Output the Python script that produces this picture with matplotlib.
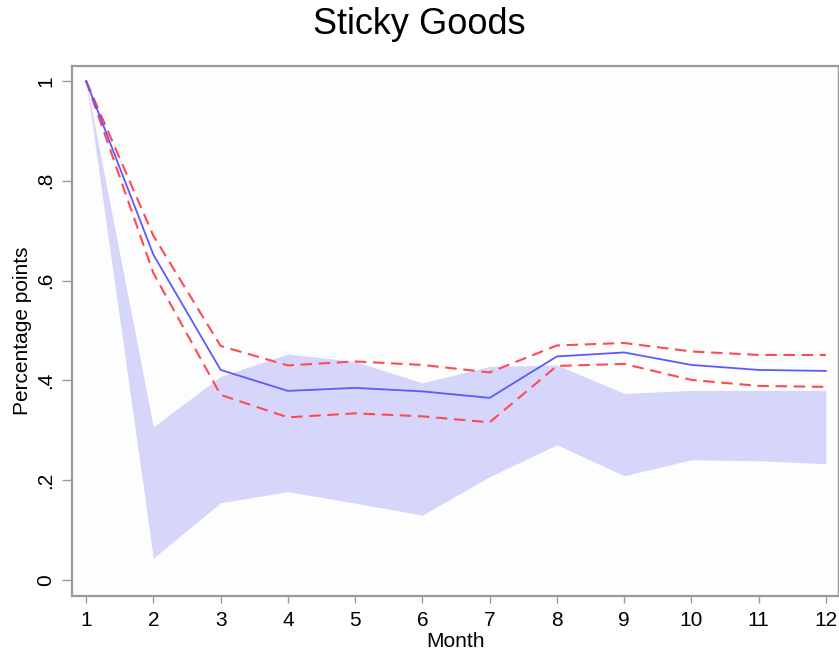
import matplotlib
matplotlib.use("Agg")
import matplotlib.pyplot as plt

plt.rcParams['font.family'] = ['Liberation Sans', 'DejaVu Sans']

months = [1, 2, 3, 4, 5, 6, 7, 8, 9, 10, 11, 12]

# point estimate and its confidence bands
estimate = [1.0, 0.652, 0.421, 0.379, 0.385, 0.378, 0.365, 0.448, 0.456, 0.431, 0.421, 0.419]
upper_ci = [1.0, 0.690, 0.469, 0.430, 0.438, 0.431, 0.416, 0.470, 0.475, 0.458, 0.451, 0.451]
lower_ci = [1.0, 0.615, 0.371, 0.326, 0.334, 0.328, 0.316, 0.429, 0.433, 0.401, 0.389, 0.387]

# shaded comparison range
range_hi = [1.0, 0.307, 0.408, 0.453, 0.438, 0.395, 0.428, 0.431, 0.374, 0.380, 0.380, 0.380]
range_lo = [1.0, 0.044, 0.155, 0.177, 0.154, 0.130, 0.207, 0.271, 0.209, 0.241, 0.239, 0.233]

yticks = [0, 0.2, 0.4, 0.6, 0.8, 1.0]
ytick_labels = ['0', '.2', '.4', '.6', '.8', '1']

fig = plt.figure(figsize=(8.39, 6.5), dpi=100, facecolor='white')
ax = fig.add_axes([72 / 839, 54 / 650, 766 / 839, 530 / 650])
ax.set_facecolor('#fdfdfd')

ax.fill_between(months, range_lo, range_hi, color='#d6d6fb', linewidth=0, zorder=1)
ax.plot(months, estimate, color='#5a5aff', linewidth=1.3, zorder=3)
for ci in (upper_ci, lower_ci):
    ax.plot(months, ci, color='#ff4a55', linewidth=1.5, dashes=(5.5, 3.2), zorder=2)

ax.set_xlim(0.79, 12.18)
ax.set_ylim(-0.032, 1.03)
ax.set_xticks(months)
ax.set_yticks(yticks)
ax.set_yticklabels(ytick_labels, rotation=90, va='center')

for side in ('left', 'bottom', 'top', 'right'):
    ax.spines[side].set_color('#9a9a9a')
    ax.spines[side].set_linewidth(1.6)
ax.spines['right'].set_linewidth(1.0)

ax.tick_params(axis='x', direction='out', length=5, width=1, color='#9a9a9a',
               labelsize=15, pad=6)
ax.tick_params(axis='y', direction='out', length=7, width=1, color='#9a9a9a',
               labelsize=15, pad=5)

ax.set_xlabel('Month', fontsize=15, labelpad=1)
ax.set_ylabel('Percentage points', fontsize=15, labelpad=3)

fig.text(0.5, 1 - 25 / 650, 'Sticky Goods', fontsize=26, ha='center', va='center')

fig.savefig('out.png', dpi=100, facecolor=fig.get_facecolor())
